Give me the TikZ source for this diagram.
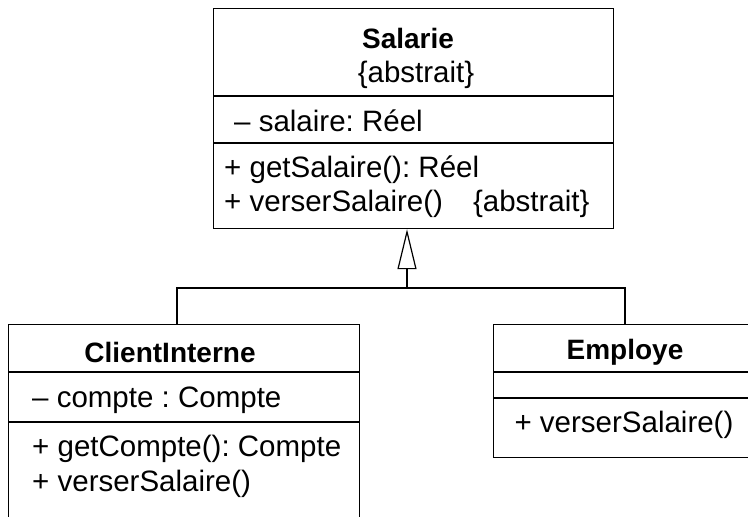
\documentclass[tikz,border=0pt]{standalone}
\usepackage{fontspec}
\setmainfont{Liberation Sans}
\usetikzlibrary{arrows.meta}
\frenchspacing
\begin{document}
\begin{tikzpicture}[x=1pt,y=-1pt,
  box/.style={draw,line width=1.2pt,anchor=north west,inner sep=0pt},
  sep/.style={line width=1.2pt},
  txt/.style={inner sep=0pt,font=\fontsize{29.5}{34}\selectfont},
  ttl/.style={inner sep=0pt,font=\fontsize{28}{34}\selectfont\bfseries},
  conn/.style={line width=1.2pt}]
\useasboundingbox (0,0) rectangle (748,517);
% Salarie
\node[box,minimum width=400pt,minimum height=220pt] (salarie) at (213,8) {};
\draw[sep] (213,96) -- (613,96);
\draw[sep] (213,143) -- (613,143);
\node[ttl] (salt) at (408,38) {Salarie};
\node[txt] (sala) at (416,75) {\{abstrait\}};
\node[txt,anchor=west] (salattr) at (234,121) {– salaire: Réel};
\node[txt,anchor=west] (salm1) at (224,170) {+ getSalaire(): Réel};
\node[txt,anchor=west] (salm2) at (224,204) {+ verserSalaire()\hspace{30pt}\{abstrait\}};
% ClientInterne
\node[box,minimum width=351pt,minimum height=220pt] (client) at (8,324) {};
\draw[sep] (8,372) -- (359,372);
\draw[sep] (8,422) -- (359,422);
\node[ttl] (clit) at (170,352) {ClientInterne};
\node[txt,anchor=west] (cliattr) at (32,400) {– compte : Compte};
\node[txt,anchor=west] (clim1) at (32,449) {+ getCompte(): Compte};
\node[txt,anchor=west] (clim2) at (32,484) {+ verserSalaire()};
% Employe
\node[box,minimum width=264pt,minimum height=133pt] (employe) at (493,324) {};
\draw[sep] (493,372) -- (757,372);
\draw[sep] (493,398) -- (757,398);
\node[ttl] (empt) at (625,352) {Employe};
\node[txt] (empm) at (624,425) {+ verserSalaire()};
% generalisation
\coordinate (join) at (407,288);
\coordinate (cl) at (177,288);
\coordinate (cr) at (625,288);
\draw[conn] (client.north west -| cl) -- (cl) -- (cr) -- (employe.north west -| cr);
\draw[conn,-{Triangle[open,length=40pt,width=19pt,line width=1.2pt]}] (join) -- (join |- salarie.south);
\end{tikzpicture}
\end{document}
